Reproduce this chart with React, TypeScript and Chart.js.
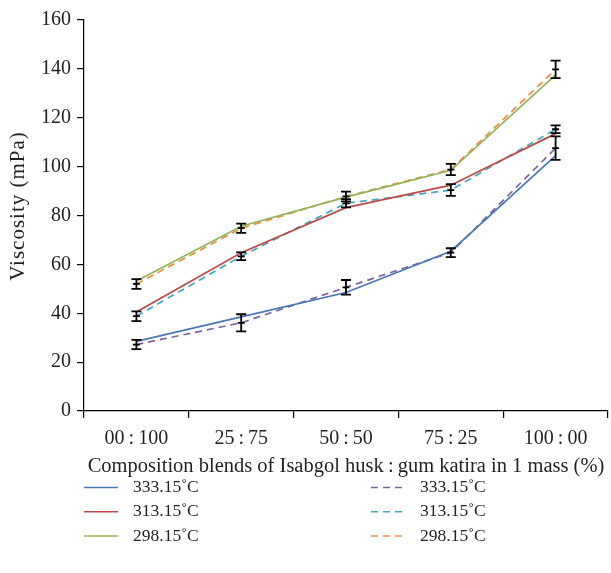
import React, { useEffect, useRef } from "react";
import { Chart, registerables } from "chart.js";

Chart.register(...registerables);

const categories = ["00\u2009:\u2009100", "25\u2009:\u200975", "50\u2009:\u200950", "75\u2009:\u200925", "100\u2009:\u200900"];
const tempLabels = ["333.15\u02DAC", "313.15\u02DAC", "298.15\u02DAC"];

// solid lines
const solid333 = [28.5, 38.5, 48.5, 65.4, 104.5];
const solid313 = [40.5, 64.8, 83.2, 92.4, 113.5];
const solid298 = [53.2, 75.6, 87.5, 98.5, 137.5];
// dashed lines
const dashed333 = [27.2, 36.1, 50.6, 64.8, 107.6];
const dashed313 = [38.8, 63.3, 85.0, 90.4, 115.3];
const dashed298 = [52.0, 74.8, 87.8, 98.8, 139.8];
// error bar half-widths (attached to dashed series)
const err333 = [1.9, 3.5, 3.0, 1.8, 4.8];
const err313 = [2.0, 1.6, 1.7, 2.4, 1.6];
const err298 = [2.0, 1.9, 2.0, 2.3, 3.6];

const yMin = 0;
const yMax = 160;
const yStep = 20;

const xTitle = "Composition blends of Isabgol husk\u2009:\u2009gum katira in 1 mass (%)";
const yTitle = "Viscosity (mPa)";

const FONT = '"Liberation Serif", "Times New Roman", serif';
const TEXT = "#231f20";

const errorBarPlugin = {
  id: "errorBars",
  afterDatasetsDraw(chart: any) {
    const ctx = chart.ctx;
    const y = chart.scales.y;
    ctx.save();
    ctx.strokeStyle = "#000";
    ctx.lineWidth = 1.8;
    chart.data.datasets.forEach((ds: any, i: number) => {
      if (!ds.errors) return;
      const meta = chart.getDatasetMeta(i);
      meta.data.forEach((pt: any, j: number) => {
        const v = ds.data[j];
        const e = ds.errors[j];
        const x = pt.x;
        const yt = y.getPixelForValue(v + e);
        const yb = y.getPixelForValue(v - e);
        const yc = y.getPixelForValue(v);
        ctx.beginPath();
        ctx.moveTo(x, yt);
        ctx.lineTo(x, yb);
        ctx.moveTo(x - 5, yt);
        ctx.lineTo(x + 5, yt);
        ctx.moveTo(x - 5, yb);
        ctx.lineTo(x + 5, yb);
        ctx.moveTo(x - 3.5, yc);
        ctx.lineTo(x + 3.5, yc);
        ctx.stroke();
      });
    });
    ctx.restore();
  },
};

const yTitlePlugin = {
  id: "yTitle",
  afterDraw(chart: any) {
    const ctx = chart.ctx;
    ctx.save();
    ctx.translate(18, 206);
    ctx.rotate(-Math.PI / 2);
    ctx.font = `21px ${FONT}`;
    try {
      (ctx as any).letterSpacing = "1px";
    } catch (e) {}
    ctx.textAlign = "center";
    ctx.textBaseline = "middle";
    ctx.fillStyle = TEXT;
    ctx.fillText(yTitle, 0, 0);
    ctx.restore();
  },
};

const legendPlugin = {
  id: "customLegend",
  afterDraw(chart: any) {
    const ctx = chart.ctx;
    const baseY = chart.scales.x.bottom + 8.5;
    const colX = [84, 371];
    ctx.save();
    ctx.font = `17.5px ${FONT}`;
    ctx.textBaseline = "middle";
    ctx.textAlign = "left";
    chart.data.datasets.forEach((ds: any, i: number) => {
      const col = i < 3 ? 0 : 1;
      const row = i % 3;
      const yy = baseY + row * 24.3;
      const x0 = colX[col];
      ctx.strokeStyle = ds.borderColor;
      ctx.lineWidth = 1.5;
      ctx.setLineDash(ds.borderDash || []);
      ctx.beginPath();
      ctx.moveTo(x0, yy);
      ctx.lineTo(x0 + 34, yy);
      ctx.stroke();
      ctx.setLineDash([]);
      ctx.fillStyle = TEXT;
      ctx.fillText(ds.label, x0 + 49, yy);
    });
    ctx.restore();
  },
};

export default function App() {
  const ref = useRef<HTMLCanvasElement | null>(null);

  useEffect(() => {
    if (!ref.current) return;
    const mk = (label: string, data: number[], color: string, dashed: boolean, errors?: number[]) => ({
      label,
      data,
      borderColor: color,
      backgroundColor: color,
      borderWidth: 1.7,
      borderDash: dashed ? [7, 5] : [],
      pointRadius: 0,
      tension: 0,
      fill: false,
      errors,
    });
    const chart = new Chart(ref.current, {
      type: "line",
      data: {
        labels: categories,
        datasets: [
          mk(tempLabels[0], solid333, "#4a78b5", false),
          mk(tempLabels[1], solid313, "#bd4a47", false),
          mk(tempLabels[2], solid298, "#93b25a", false),
          mk(tempLabels[0], dashed333, "#7d62a3", true, err333),
          mk(tempLabels[1], dashed313, "#41a6c4", true, err313),
          mk(tempLabels[2], dashed298, "#ef8c3c", true, err298),
        ] as any,
      },
      options: {
        responsive: false,
        animation: false,
        layout: { padding: { top: 20, right: 3, bottom: 94, left: 0 } },
        plugins: {
          legend: { display: false },
          tooltip: { enabled: false },
        },
        scales: {
          x: {
            type: "category",
            offset: true,
            grid: {
              offset: true,
              drawOnChartArea: false,
              drawTicks: true,
              tickLength: 7,
              color: "#000",
              lineWidth: 1.2,
            },
            border: { display: true, color: "#000", width: 1.2 },
            ticks: {
              color: TEXT,
              font: { family: FONT, size: 20 },
              padding: 9,
              maxRotation: 0,
            },
            title: {
              display: true,
              text: xTitle,
              color: TEXT,
              font: { family: FONT, size: 20.5 },
              padding: { top: 0, bottom: 0 },
            },
            afterFit: (s: any) => {
              s.height = 68;
            },
          },
          y: {
            min: yMin,
            max: yMax,
            grid: {
              drawOnChartArea: false,
              drawTicks: true,
              tickLength: 7,
              color: "#000",
              lineWidth: 1.2,
            },
            border: { display: true, color: "#000", width: 1.2 },
            ticks: {
              stepSize: yStep,
              color: TEXT,
              font: { family: FONT, size: 20 },
              padding: 6,
            },
            title: { display: false },
            afterFit: (s: any) => {
              s.width = 84;
            },
          },
        },
      },
      plugins: [errorBarPlugin, yTitlePlugin, legendPlugin],
    });
    return () => chart.destroy();
  }, []);

  return (
    <div style={{ position: "fixed", left: 0, top: 0, width: 611, height: 573, background: "#fff" }}>
      <canvas ref={ref} width={611} height={573} style={{ display: "block", width: 611, height: 573 }} />
    </div>
  );
}
